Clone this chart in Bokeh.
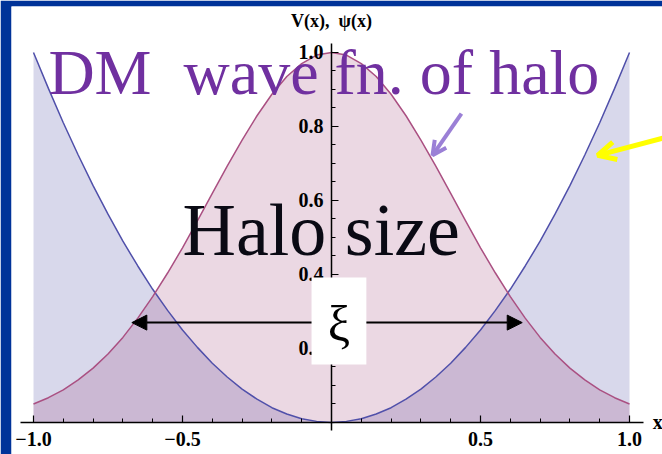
import numpy as np
from bokeh.plotting import figure
from bokeh.models import (FixedTicker, Arrow, NormalHead, OpenHead, BoxAnnotation,
                          Range1d, Label)
from bokeh.core.properties import value
from bokeh.embed import file_html
from bokeh.resources import INLINE

# Potential V(x) and halo wave function psi(x), sampled on [-1, 1]
x_vals = [-1.0, -0.95, -0.9, -0.85, -0.8, -0.75, -0.7, -0.65, -0.6, -0.55, -0.5,
          -0.45, -0.4, -0.35, -0.3, -0.25, -0.2, -0.15, -0.1, -0.05, 0.0,
          0.05, 0.1, 0.15, 0.2, 0.25, 0.3, 0.35, 0.4, 0.45, 0.5,
          0.55, 0.6, 0.65, 0.7, 0.75, 0.8, 0.85, 0.9, 0.95, 1.0]
v_vals = [1.0, 0.903, 0.81, 0.723, 0.64, 0.563, 0.49, 0.423, 0.36, 0.303, 0.25,
          0.203, 0.16, 0.123, 0.09, 0.063, 0.04, 0.023, 0.01, 0.003, 0.0,
          0.003, 0.01, 0.023, 0.04, 0.063, 0.09, 0.123, 0.16, 0.203, 0.25,
          0.303, 0.36, 0.423, 0.49, 0.563, 0.64, 0.723, 0.81, 0.903, 1.0]
psi_vals = [0.050, 0.067, 0.088, 0.115, 0.147, 0.185, 0.230, 0.282, 0.340, 0.404, 0.472,
            0.545, 0.619, 0.693, 0.763, 0.829, 0.887, 0.935, 0.970, 0.993, 1.0,
            0.993, 0.970, 0.935, 0.887, 0.829, 0.763, 0.693, 0.619, 0.545, 0.472,
            0.404, 0.340, 0.282, 0.230, 0.185, 0.147, 0.115, 0.088, 0.067, 0.050]

x_ticks = [-1.0, -0.5, 0.5, 1.0]
x_tick_labels = ["\u22121.0", "\u22120.5", "0.5", "1.0"]
x_minor = [-0.9, -0.8, -0.7, -0.6, -0.4, -0.3, -0.2, -0.1,
           0.1, 0.2, 0.3, 0.4, 0.6, 0.7, 0.8, 0.9]
y_ticks = [0.2, 0.4, 0.6, 0.8, 1.0]
y_tick_labels = ["0.2", "0.4", "0.6", "0.8", "1.0"]
y_minor = [0.05, 0.1, 0.15, 0.25, 0.3, 0.35, 0.45, 0.5, 0.55,
           0.65, 0.7, 0.75, 0.85, 0.9, 0.95]

# Width of the halo marked by the double arrow
xi_left, xi_right, xi_level = -0.67, 0.64, 0.27

W, H = 662, 454
PAD_L, PAD_T = 11, 6          # slide frame showing at the left and top
X0, X1 = -1.0738, 1.1107
Y0, Y1 = -0.0865, 1.1243

SERIF = "Liberation Serif"
BLUE = (61, 61, 153)
PINK = (153, 61, 116)
NBSP = "\u00a0"
SLIDE_BLUE = "#003399"

p = figure(width=W, height=H, x_range=Range1d(X0, X1), y_range=Range1d(Y0, Y1),
           output_backend="svg", toolbar_location=None,
           min_border_left=PAD_L, min_border_top=PAD_T,
           min_border_right=0, min_border_bottom=0,
           background_fill_color="white", border_fill_color=SLIDE_BLUE,
           outline_line_color=None)
p.grid.visible = False

# Filled curves
p.varea(x=x_vals, y1=0, y2=v_vals, fill_color=BLUE, fill_alpha=0.2)
p.varea(x=x_vals, y1=0, y2=psi_vals, fill_color=PINK, fill_alpha=0.2)
p.line(x_vals, v_vals, line_color=(80, 80, 170), line_width=1.5)
p.line(x_vals, psi_vals, line_color=(170, 80, 130), line_width=1.5)

# Axes crossing at the origin
p.xaxis.fixed_location = 0
p.yaxis.fixed_location = 0
p.xaxis.bounds = (-1.044, 1.047)
p.yaxis.bounds = (-0.022, 1.024)
p.xaxis.ticker = FixedTicker(ticks=x_ticks, minor_ticks=x_minor)
p.yaxis.ticker = FixedTicker(ticks=y_ticks, minor_ticks=y_minor)
p.xaxis.major_label_overrides = dict(zip(x_ticks, x_tick_labels))
p.yaxis.major_label_overrides = dict(zip(y_ticks, y_tick_labels))
for ax in (p.xaxis, p.yaxis):
    ax.axis_line_color = "black"
    ax.axis_line_width = 1.5
    ax.major_tick_line_color = "black"
    ax.minor_tick_line_color = "black"
    ax.major_tick_line_width = 1.2
    ax.minor_tick_line_width = 1.0
    ax.major_tick_in = 7
    ax.major_tick_out = 0
    ax.minor_tick_in = 4
    ax.minor_tick_out = 0
    ax.major_label_text_font = SERIF
    ax.major_label_text_font_style = "bold"
    ax.major_label_text_font_size = "20px"
    ax.major_label_text_color = "black"
p.xaxis.major_label_standoff = 10
p.yaxis.major_label_standoff = 8

# Axis titles
p.add_layout(Label(x=0, y=1.084, text="V(x)," + NBSP + " \u03c8(x)",
                   text_font=SERIF, text_font_style="bold", text_font_size="18px",
                   text_align="center", text_baseline="middle", text_color="black"))
p.add_layout(Label(x=1.078, y=0, text="x", text_font=SERIF, text_font_style="bold",
                   text_font_size="20px", text_align="left", text_baseline="middle",
                   text_color="black"))

# Annotations
p.add_layout(Label(x=-0.950, y=0.947, text="DM" + NBSP + " wave fn. of halo",
                   text_font=SERIF, text_font_size="64px", text_color="#7030a0",
                   text_baseline="middle"))
p.add_layout(Label(x=-0.50, y=0.520, text="Halo size", text_font=SERIF,
                   text_font_size="74px", text_color="#0a0a14", text_baseline="middle"))

p.add_layout(Arrow(x_start=xi_left, y_start=xi_level, x_end=xi_right, y_end=xi_level,
                   line_color="black", line_width=2,
                   start=NormalHead(size=15, fill_color="black", line_color="black"),
                   end=NormalHead(size=15, fill_color="black", line_color="black")))
p.add_layout(BoxAnnotation(left=-0.067, right=0.117, bottom=0.157, top=0.392,
                           fill_color="white", fill_alpha=1, line_color=None))
p.add_layout(Label(x=0.025, y=0.265, text="\u03be", text_font=SERIF,
                   text_font_size="50px", text_align="center", text_baseline="middle",
                   text_color="black"))

p.add_layout(Arrow(x_start=0.436, y_start=0.835, x_end=0.339, y_end=0.722,
                   line_color="#9b80d6", line_width=4,
                   end=OpenHead(size=14, line_color="#9b80d6", line_width=4)))
p.add_layout(Arrow(x_start=1.12, y_start=0.770, x_end=0.893, y_end=0.722,
                   line_color="#ffff00", line_width=5,
                   end=OpenHead(size=18, line_color="#ffff00", line_width=5)))

open("out.html", "w").write(file_html(p, INLINE))
